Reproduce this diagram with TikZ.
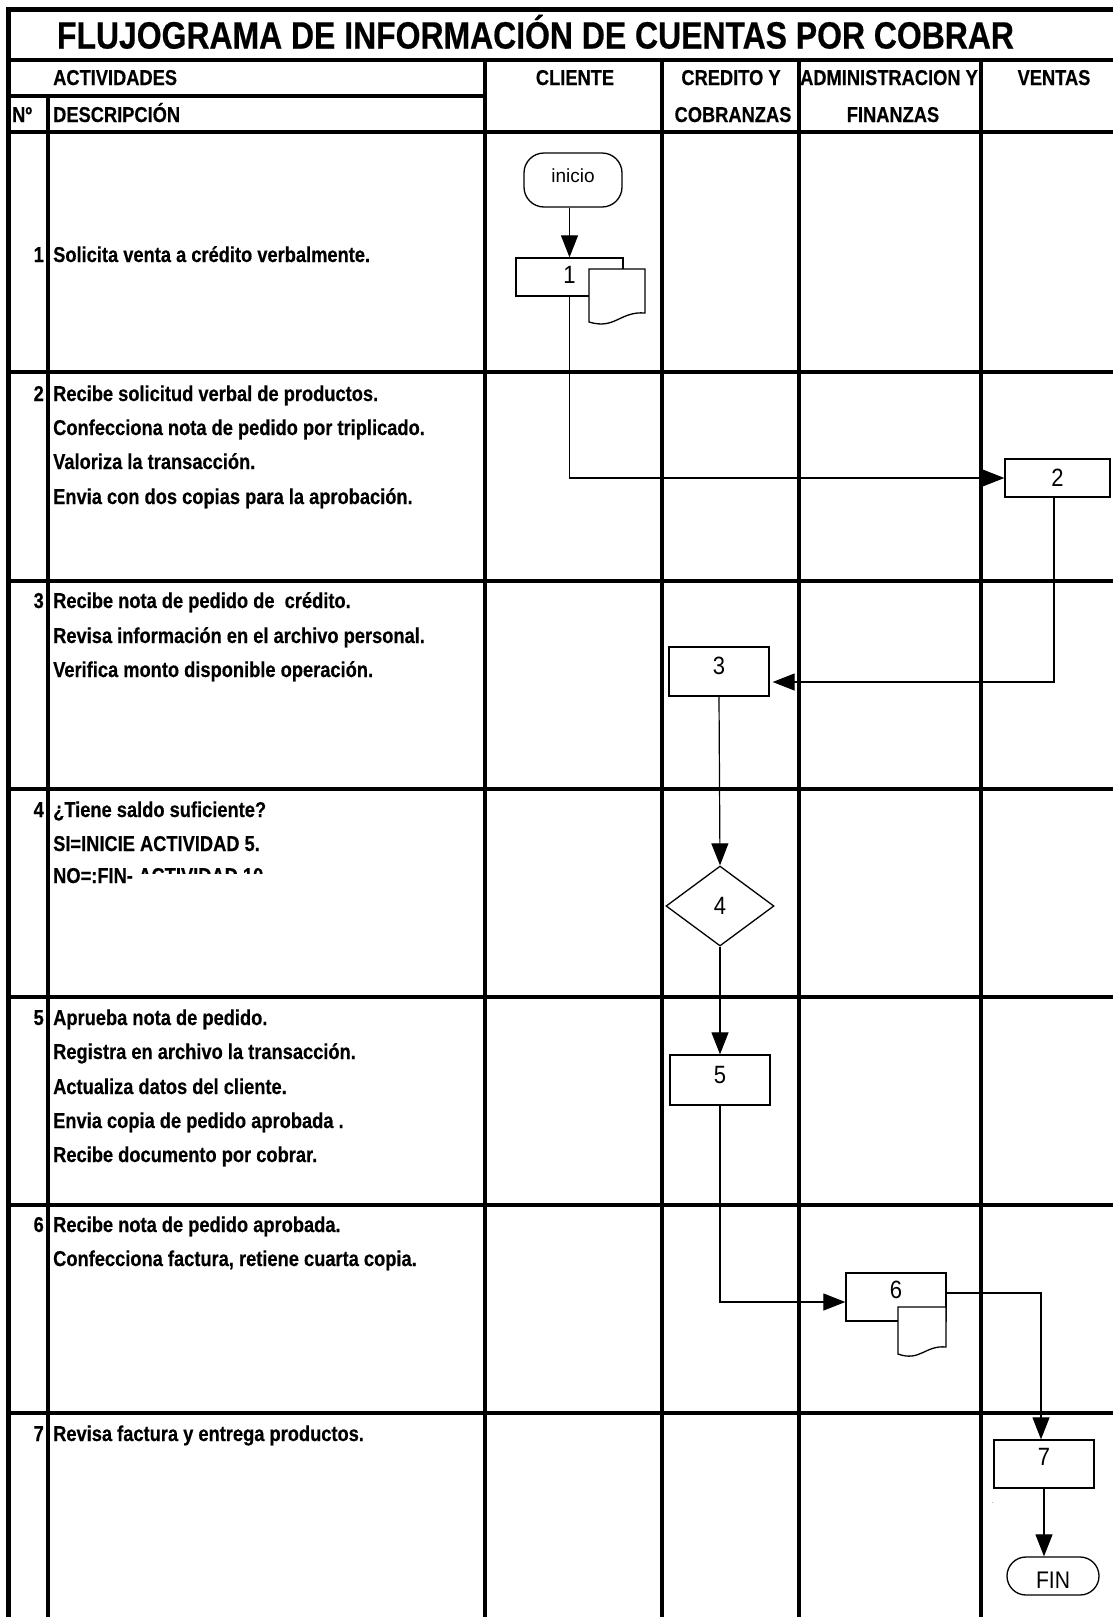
\documentclass[tikz,border=0pt]{standalone}
\usepackage{fontspec}
\setmainfont{Liberation Sans}
\newfontfamily\cellfont[FakeStretch=0.85, BoldFeatures={FakeBold=0.4}]{Liberation Sans}
\newfontfamily\titlefont[FakeStretch=0.84, BoldFeatures={FakeBold=0.5}]{Liberation Sans}
\newfontfamily\shapefont[FakeStretch=0.88]{Liberation Sans}
\usetikzlibrary{arrows.meta,shapes.geometric}

\begin{document}
\begin{tikzpicture}[x=1pt,y=-1pt,
  gridline/.style={line width=4.5pt},
  txt/.style={inner sep=0pt, anchor=base west, font=\cellfont\bfseries\fontsize{21.5}{24}\selectfont},
  numtxt/.style={txt, anchor=base east},
  headtxt/.style={txt, anchor=base},
  titletxt/.style={inner sep=0pt, anchor=base, font=\titlefont\bfseries\fontsize{38}{44}\selectfont},
  procbox/.style={draw, line width=1.3pt, fill=white, minimum width=100pt, minimum height=48pt,
    inner sep=0pt, font=\shapefont\fontsize{25}{25}\selectfont},
  termbox/.style={procbox, rounded corners=19pt, minimum width=92pt, minimum height=38pt},
  decbox/.style={draw, diamond, line width=1.3pt, fill=white, inner sep=0pt, minimum width=108pt,
    minimum height=80pt, font=\shapefont\fontsize{25}{25}\selectfont},
  docshape/.style={draw, line width=1.3pt, fill=white},
  conn/.style={line width=1.2pt, -{Triangle[length=22pt,width=17pt]}}
]
\useasboundingbox (0,0) rectangle (1113,1617);
\fill[white] (0,0) rectangle (1113,1617);

% ---------- table grid ----------
\draw[gridline] (8,9.5) -- (1113,9.5);
\draw[gridline] (8.5,7) -- (8.5,1617);
\draw[gridline] (8,60) -- (1113,60);
\draw[gridline] (8,96) -- (485,96);
\draw[gridline] (8,132) -- (1113,132);
\foreach \y in {372,581,789,997,1205,1413}
  \draw[gridline] (8,\y) -- (1113,\y);
\draw[gridline] (48,96) -- (48,1617);
\foreach \x in {485,662,799,981}
  \draw[gridline] (\x,60) -- (\x,1617);

% ---------- title and headers ----------
\node[titletxt] (title) at (535.5,48.5) {FLUJOGRAMA DE INFORMACIÓN DE CUENTAS POR COBRAR};
\node[txt] (hact) at (53,85) {ACTIVIDADES};
\node[txt] (hno) at (12,122) {Nº};
\node[txt] (hdesc) at (53,122) {DESCRIPCIÓN};
\node[headtxt] (hcli) at (575,85) {CLIENTE};
\node[headtxt] (hcc1) at (731,85) {CREDITO Y};
\node[headtxt] (hcc2) at (733,122) {COBRANZAS};
\node[headtxt] (haf1) at (889,85) {ADMINISTRACION Y};
\node[headtxt] (haf2) at (893,122) {FINANZAS};
\node[headtxt] (hven) at (1054,85) {VENTAS};

% ---------- activity descriptions ----------
\node[numtxt] (n1) at (44,262) {1};
\node[txt] (d1a) at (53,262) {Solicita venta a crédito verbalmente.};

\node[numtxt] (n2) at (44,401) {2};
\node[txt] (d2a) at (53,401) {Recibe solicitud verbal de productos.};
\node[txt] (d2b) at (53,435) {Confecciona nota de pedido por triplicado.};
\node[txt] (d2c) at (53,469) {Valoriza la transacción.};
\node[txt] (d2d) at (53,504) {Envia con dos copias para la aprobación.};

\node[numtxt] (n3) at (44,608) {3};
\node[txt] (d3a) at (53,608) {Recibe nota de pedido de \ crédito.};
\node[txt] (d3b) at (53,643) {Revisa información en el archivo personal.};
\node[txt] (d3c) at (53,677) {Verifica monto disponible operación.};

\node[numtxt] (n4) at (44,817) {4};
\node[txt] (d4a) at (53,817) {¿Tiene saldo suficiente?};
\node[txt] (d4b) at (53,851) {SI=INICIE ACTIVIDAD 5.};
\node[txt] (d4c) at (53,883) {NO=:FIN-};
\begin{scope}
  \clip (100,860) rectangle (480,873);
  \node[txt] (d4d) at (d4c.base east) {\ ACTIVIDAD 10};
\end{scope}

\node[numtxt] (n5) at (44,1025) {5};
\node[txt] (d5a) at (53,1025) {Aprueba nota de pedido.};
\node[txt] (d5b) at (53,1059) {Registra en archivo la transacción.};
\node[txt] (d5c) at (53,1094) {Actualiza datos del cliente.};
\node[txt] (d5d) at (53,1128) {Envia copia de pedido aprobada .};
\node[txt] (d5e) at (53,1162) {Recibe documento por cobrar.};

\node[numtxt] (n6) at (44,1232) {6};
\node[txt] (d6a) at (53,1232) {Recibe nota de pedido aprobada.};
\node[txt] (d6b) at (53,1266) {Confecciona factura, retiene cuarta copia.};

\node[numtxt] (n7) at (44,1441) {7};
\node[txt] (d7a) at (53,1441) {Revisa factura y entrega productos.};

% ---------- flow symbols ----------
\node[termbox, rounded corners=20pt, minimum width=98pt, minimum height=54pt, text depth=8pt,
      font=\fontsize{19}{19}\selectfont] (ini) at (573,180) {inicio};
\node[procbox, minimum width=107pt, minimum height=38pt, text depth=4pt] (b1) at (569.5,277) {1};
\node[procbox, minimum width=105pt, minimum height=38pt] (b2) at (1057.5,478) {2};
\node[procbox, minimum height=49pt, text depth=12pt] (b3) at (719,671.5) {3};
\node[decbox] (d4) at (720,906) {4};
\node[procbox, minimum height=50pt, text depth=10pt] (b5) at (720,1080) {5};
\node[procbox, minimum height=48pt, text depth=14pt] (b6) at (896,1297) {6};
\node[procbox, minimum height=48pt, text depth=14pt] (b7) at (1044,1464) {7};
\node[termbox, text height=25pt, font=\shapefont\fontsize{24}{24}\selectfont] (fin) at (1053,1576) {FIN};
\node[inner sep=0pt, font=\fontsize{6}{6}\selectfont] (dot) at (993,1503) {.};

% documents attached to steps 1 and 6
\draw[docshape] (589,269) -- (645,269) -- (645,313)
  .. controls (620,311) and (615,330) .. (589,322) -- cycle;
\draw[docshape] (898,1307) -- (946,1307) -- (946,1347)
  .. controls (925,1345) and (920,1362) .. (898,1354) -- cycle;

% ---------- connectors ----------
\draw[conn] (b1.north |- ini.south) -- (b1.north);
\draw[conn] (b1.south) |- (b2.west);
\draw[conn, shorten >=3pt] ([xshift=-3.5pt]b2.south) |- ([yshift=-10.5pt]b3.east);
\draw[conn] (b3.south) -- (d4.north);
\draw[conn] (d4.south) -- (b5.north);
\draw[conn] (b5.south) |- ([yshift=-5pt]b6.west);
\draw[conn] ([yshift=4pt]b6.east) -| ([xshift=-3pt]b7.north);
\draw[conn] (b7.south) -- (b7.south |- fin.north);
\end{tikzpicture}
\end{document}
